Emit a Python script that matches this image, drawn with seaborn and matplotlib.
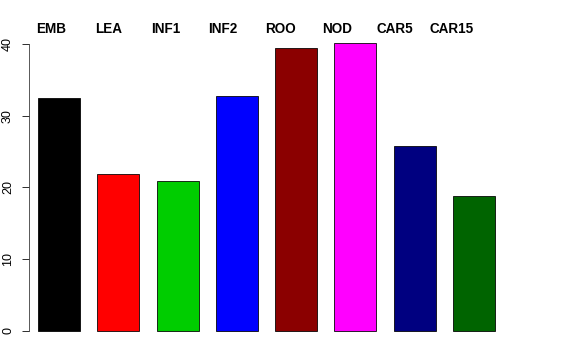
import pandas as pd
import matplotlib
matplotlib.use("Agg")
import matplotlib.pyplot as plt
import seaborn as sns

# Data
groups = ["EMB", "LEA", "INF1", "INF2", "ROO", "NOD", "CAR5", "CAR15"]
values = [32.5, 21.9, 20.9, 32.8, 39.4, 40.1, 25.85, 18.8]
colors = ["#000000", "#FF0000", "#00CD00", "#0000FF", "#8B0000", "#FF00FF", "#000080", "#006400"]
y_ticks = [0, 10, 20, 30, 40]

df = pd.DataFrame({"group": groups, "value": values})

sns.set_style("white")
plt.rcParams["font.family"] = ["Liberation Sans", "DejaVu Sans"]
plt.rcParams["text.color"] = "black"
plt.rcParams["ytick.color"] = "black"

fig = plt.figure(figsize=(8, 5), dpi=72)
ax = fig.add_axes([29 / 576, 29 / 360, 516 / 576, 287 / 360])

sns.barplot(data=df, x="group", y="value", hue="group", palette=colors, saturation=1,
            width=0.708, edgecolor="black", linewidth=0.8, legend=False, ax=ax)
for p in ax.patches:
    p.set_clip_on(False)

ax.set_xlim(-0.506, 8.196)
ax.set_ylim(0, 40)
ax.set_yticks(y_ticks)
ax.set_yticklabels([str(t) for t in y_ticks], rotation=90, va="center", fontsize=12.5)
ax.tick_params(axis="y", length=7, width=0.8, pad=8, colors="black", left=True)
ax.set_xticks([])
ax.set_xlabel("")
ax.set_ylabel("")
for s in ["top", "right", "bottom"]:
    ax.spines[s].set_visible(False)
ax.spines["left"].set_color("#333333")
ax.spines["left"].set_linewidth(0.8)

# group names sit above the plot region
for i, g in enumerate(groups):
    ax.text(-0.135 + 0.966 * i, 42.1, g, ha="center", va="center",
            fontsize=13.5, fontweight="bold", color="black", clip_on=False)

plt.savefig("out.png", dpi=72)
plt.close()
